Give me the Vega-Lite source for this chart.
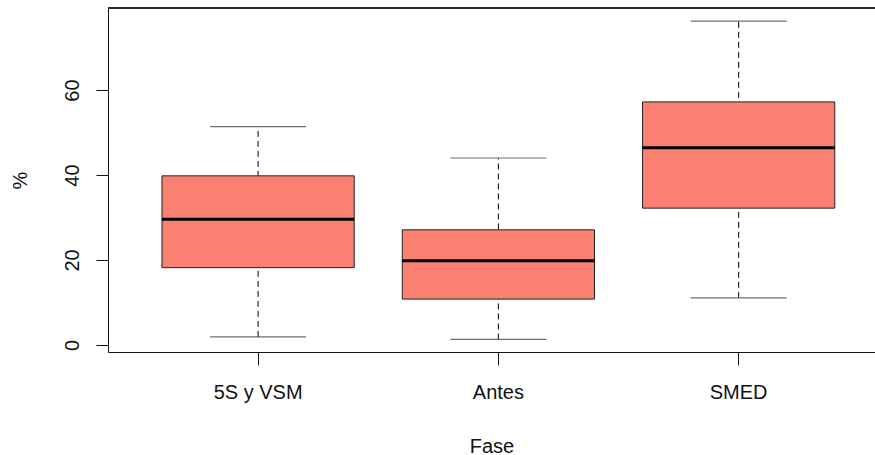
{
  "$schema": "https://vega.github.io/schema/vega-lite/v6.json",
  "width": 767,
  "height": 344,
  "autosize": "none",
  "padding": {"left": 108, "top": 8, "right": 0, "bottom": 103},
  "background": "white",
  "config": {
    "view": {"stroke": null},
    "font": "Liberation Sans",
    "axis": {"labelFont": "Liberation Sans", "titleFont": "Liberation Sans", "labelFontSize": 20, "titleFontSize": 20, "labelColor": "#111", "titleColor": "#111", "titleFontWeight": "normal", "grid": false, "domainColor": "#111", "tickColor": "#111", "domainWidth": 1, "tickWidth": 1}
  },
  "data": {
    "values": [
      {"Fase": "5S y VSM", "min": 1.9, "q1": 18.2, "median": 29.6, "q3": 39.8, "max": 51.4},
      {"Fase": "Antes", "min": 1.3, "q1": 10.8, "median": 19.8, "q3": 27.1, "max": 44.0},
      {"Fase": "SMED", "min": 11.1, "q1": 32.2, "median": 46.4, "q3": 57.2, "max": 76.2}
    ]
  },
  "layer": [
    {
      "mark": {"type": "rule", "color": "black", "strokeWidth": 1, "strokeDash": [6, 4]},
      "encoding": {
        "x": {
          "field": "Fase", "type": "nominal", "sort": null,
          "scale": {"type": "band", "paddingInner": 0.2, "paddingOuter": 0.196, "align": 0.573},
          "axis": {"labelAngle": 0, "tickSize": 13, "labelPadding": 17, "labelBaseline": "top", "title": "Fase", "titleBaseline": "alphabetic", "titleY": 100, "titleAnchor": "middle"}
        },
        "y": {"field": "min", "type": "quantitative", "scale": {"domain": [-1.65, 79.3], "nice": false, "zero": false},
          "axis": {"values": [0, 20, 40, 60], "tickSize": 12, "labelAngle": -90, "labelAlign": "center", "labelBaseline": "middle", "labelPadding": 24, "title": "%", "titleAngle": -90, "titleX": -88, "titleY": 172, "titleAlign": "center", "titleBaseline": "middle"}},
        "y2": {"field": "max"}
      }
    },
    {
      "mark": {"type": "bar", "fill": "#FA8072", "stroke": "#222", "strokeWidth": 1},
      "encoding": {"x": {"field": "Fase", "type": "nominal", "sort": null}, "y": {"field": "q1", "type": "quantitative"}, "y2": {"field": "q3"}}
    },
    {
      "mark": {"type": "bar", "fill": "black", "stroke": "black", "strokeWidth": 3},
      "encoding": {"x": {"field": "Fase", "type": "nominal", "sort": null}, "y": {"field": "median", "type": "quantitative"}, "y2": {"field": "median"}}
    },
    {
      "mark": {"type": "tick", "color": "#333", "size": 96, "thickness": 1.2, "orient": "horizontal"},
      "encoding": {"x": {"field": "Fase", "type": "nominal", "sort": null}, "y": {"field": "max", "type": "quantitative"}}
    },
    {
      "mark": {"type": "tick", "color": "#333", "size": 96, "thickness": 1.2, "orient": "horizontal"},
      "encoding": {"x": {"field": "Fase", "type": "nominal", "sort": null}, "y": {"field": "min", "type": "quantitative"}}
    },
    {
      "mark": {"type": "rule", "color": "#111", "strokeWidth": 1.2},
      "encoding": {"y": {"datum": 79.3}}
    }
  ]
}
